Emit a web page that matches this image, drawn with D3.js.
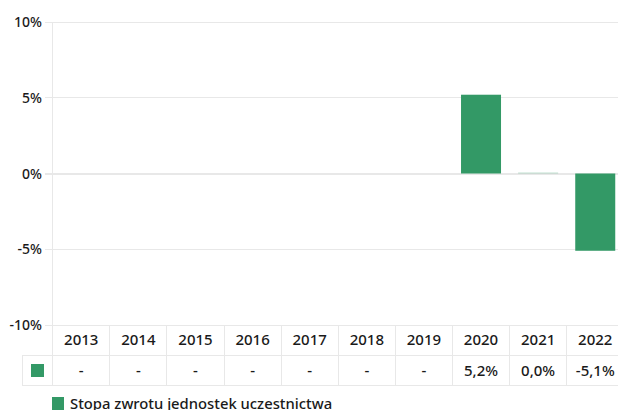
<!DOCTYPE html>
<html><head><meta charset="utf-8">
<script src="https://cdn.jsdelivr.net/npm/d3@7"></script>
<style>
body{margin:0;background:#fff;}
text{font-family:"Noto Sans",sans-serif;fill:#1a1a1a;}
</style></head>
<body><svg id="c" width="618" height="410"></svg>
<script>
const years = ["2013","2014","2015","2016","2017","2018","2019","2020","2021","2022"];
const values = [null,null,null,null,null,null,null,5.2,0.0,-5.1];
const labels = ["-","-","-","-","-","-","-","5,2%","0,0%","-5,1%"];
const yTicks = [10,5,0,-5,-10];
const seriesName = "Stopa zwrotu jednostek uczestnictwa";
const color = "#339966";

(function(){
const svg = d3.select("#c");
const pL = 52.7, pR = 623.8, pT = 22, pB = 325;
const xc = d3.scaleBand().domain(years).range([pL,pR]);
const y = d3.scaleLinear().domain([-10,10]).range([pB,pT]);
const grid = "#e8e8e8";

svg.append("g").selectAll("line").data(yTicks).join("line")
  .attr("x1",45).attr("x2",618).attr("y1",d=>y(d)).attr("y2",d=>y(d))
  .attr("stroke",grid).attr("stroke-width",d=>d===0?2:1).attr("shape-rendering","crispEdges");
svg.append("line").attr("x1",pL).attr("x2",pL).attr("y1",pT).attr("y2",pB)
  .attr("stroke",grid).attr("shape-rendering","crispEdges");

svg.append("g").selectAll("text").data(yTicks).join("text")
  .attr("x",42).attr("y",d=>y(d)+5).attr("text-anchor","end")
  .attr("font-size",14).attr("font-weight",500).text(d=>d+"%");

const bw = 40;
svg.append("g").selectAll("rect").data(years.map((yr,i)=>({yr,v:values[i]})).filter(d=>d.v!==null)).join("rect")
  .attr("x",d=>xc(d.yr)+xc.bandwidth()/2-bw/2).attr("width",bw)
  .attr("y",d=>d.v===0?y(0)-1:y(Math.max(0,d.v)))
  .attr("height",d=>d.v===0?1:Math.abs(y(d.v)-y(0)))
  .attr("fill",color).attr("opacity",d=>d.v===0?0.3:1);

const r1 = 325, r2 = 355, r3 = 385, tl = 22;
const tg = svg.append("g").attr("stroke",grid).attr("shape-rendering","crispEdges");
tg.append("line").attr("x1",tl).attr("x2",618).attr("y1",r2).attr("y2",r2);
tg.append("line").attr("x1",tl).attr("x2",618).attr("y1",r3).attr("y2",r3);
tg.append("line").attr("x1",tl).attr("x2",tl).attr("y1",r2).attr("y2",r3);
tg.selectAll(".v").data(years).join("line")
  .attr("x1",d=>xc(d)).attr("x2",d=>xc(d)).attr("y1",r1).attr("y2",r3);

svg.append("g").selectAll("text").data(years).join("text")
  .attr("x",d=>xc(d)+xc.bandwidth()/2).attr("y",344.5).attr("text-anchor","middle")
  .attr("font-size",15).attr("font-weight",500).text(d=>d);
svg.append("g").selectAll("text").data(labels).join("text")
  .attr("x",(d,i)=>xc(years[i])+xc.bandwidth()/2).attr("y",375.5).attr("text-anchor","middle")
  .attr("font-size",15).attr("font-weight",500).text(d=>d);
svg.append("rect").attr("x",31).attr("y",364).attr("width",13).attr("height",13).attr("fill",color);

svg.append("rect").attr("x",52).attr("y",397).attr("width",12).attr("height",13).attr("fill",color);
svg.append("text").attr("x",70).attr("y",408.5).attr("font-size",14.8).attr("font-weight",500).text(seriesName);
})();
</script></body></html>
